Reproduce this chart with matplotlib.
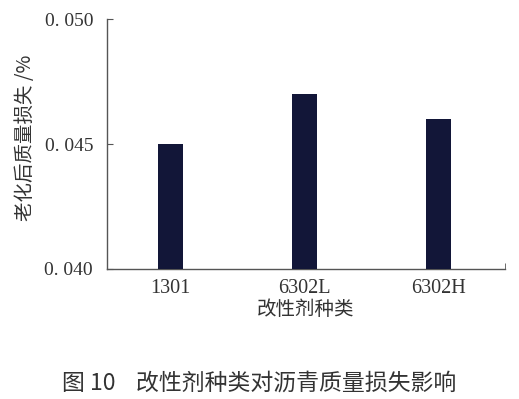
import matplotlib.pyplot as plt
from matplotlib.ticker import FixedLocator

plt.rcParams['font.family'] = ['Liberation Serif', 'Noto Sans CJK SC']

categories = ['1301', '6302L', '6302H']
mass_loss = [0.045, 0.047, 0.046]
y_ticks = [0.040, 0.045, 0.050]
y_tick_labels = ['0. 040', '0. 045', '0. 050']

bar_color = '#121638'
axis_color = '#555555'

fig = plt.figure(figsize=(5.19, 3.99), dpi=100)
ax = fig.add_axes([0.206, 0.326, 0.767, 0.626])

x_pos = range(len(categories))
ax.bar(x_pos, mass_loss, width=0.19, color=bar_color, zorder=3)

ax.set_xlim(-0.474, 2.496)
ax.set_ylim(0.040, 0.050)

ax.set_yticks(y_ticks)
ax.set_yticklabels(y_tick_labels, fontsize=14, color='#333333')
ax.set_xticks(list(x_pos))
ax.set_xticklabels(categories, fontsize=14.5, color='#333333')

# only a small tick at the right end of the x axis
ax.xaxis.set_minor_locator(FixedLocator([2.496]))
ax.tick_params(axis='x', which='major', length=0, pad=7)
ax.tick_params(axis='x', which='minor', direction='in', length=4, color=axis_color)
ax.tick_params(axis='y', direction='in', length=4, color=axis_color, pad=10)

for side in ['top', 'right']:
    ax.spines[side].set_visible(False)
for side in ['left', 'bottom']:
    ax.spines[side].set_color(axis_color)
    ax.spines[side].set_linewidth(1.0)

ax.set_xlabel('改性剂种类', fontsize=14, family=['Noto Sans CJK SC'],
              color='#333333', labelpad=1)
ax.set_ylabel('老化后质量损失 /%', fontsize=14, family=['Noto Sans CJK SC', 'DejaVu Sans'],
              color='#333333')
ax.yaxis.set_label_coords(-0.178, 0.525)

fig.text(0.5, 0.04, '图 10    改性剂种类对沥青质量损失影响', ha='center', va='center',
         fontsize=16.5, family=['Noto Sans CJK SC', 'DejaVu Sans'], color='#333333')

fig.savefig('out.png', dpi=100)
